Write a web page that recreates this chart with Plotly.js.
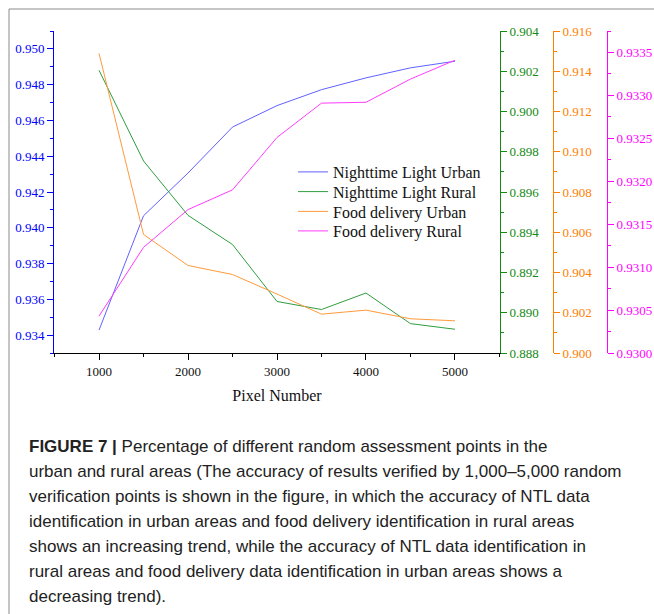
<!DOCTYPE html>
<html>
<head>
<meta charset="utf-8">
<script src="https://cdn.plot.ly/plotly-3.0.1.min.js"></script>
<style>html,body{margin:0;padding:0;background:#fff;}#chart{width:654px;height:614px;}</style>
</head>
<body>
<div id="chart"></div>
<script>
// ---- data ----
const pixelNumber = [1000, 1500, 2000, 2500, 3000, 3500, 4000, 4500, 5000];
const ntlUrban  = [0.93428, 0.94067, 0.94306, 0.94563, 0.94683, 0.94772, 0.94838, 0.94894, 0.94931];
const ntlRural  = [0.90205, 0.89754, 0.89484, 0.89339, 0.89056, 0.89016, 0.89098, 0.88946, 0.88918];
const foodUrban = [0.91489, 0.90589, 0.90435, 0.90390, 0.90293, 0.90193, 0.90213, 0.90170, 0.90160];
const foodRural = [0.93043, 0.93123, 0.93167, 0.93190, 0.93251, 0.93291, 0.93292, 0.93319, 0.93341];
const seriesNames = ["Nighttime Light Urban", "Nighttime Light Rural", "Food delivery Urban", "Food delivery Rural"];
const xTitle = "Pixel Number";
const captionLines = [
  "<b>FIGURE 7 |</b> Percentage of different random assessment points in the",
  "urban and rural areas (The accuracy of results verified by 1,000–5,000 random",
  "verification points is shown in the figure, in which the accuracy of NTL data",
  "identification in urban areas and food delivery identification in rural areas",
  "shows an increasing trend, while the accuracy of NTL data identification in",
  "rural areas and food delivery data identification in urban areas shows a",
  "decreasing trend)."
];

// ---- layout geometry (pixels) ----
const W = 654, H = 614;
const mL = 54, mR = 47, mT = 31, mB = 261;
const pw = W - mL - mR, ph = H - mT - mB;
const px = x => (x - mL) / pw;
const py = y => (H - mB - y) / ph;

const serif = "Liberation Serif, Times New Roman, serif";
const cBlue = "#0000ff", cGreen = "#138a13", cOrange = "#ff8000", cMag = "#ff00ff";

const traces = [
  {x: pixelNumber, y: ntlUrban, name: seriesNames[0], type: "scatter", mode: "lines", yaxis: "y", legend: "legend", line: {color: "#6161ff", width: 1}},
  {x: pixelNumber, y: ntlRural, name: seriesNames[1], type: "scatter", mode: "lines", yaxis: "y2", legend: "legend2", line: {color: "#2e9e3e", width: 1}},
  {x: pixelNumber, y: foodUrban, name: seriesNames[2], type: "scatter", mode: "lines", yaxis: "y3", legend: "legend3", line: {color: "#ff9a3c", width: 1}},
  {x: pixelNumber, y: foodRural, name: seriesNames[3], type: "scatter", mode: "lines", yaxis: "y4", legend: "legend4", line: {color: "#ff3cff", width: 1}}
];

function yax(color, range, dtick, fmt, extra) {
  return Object.assign({
    range: range, dtick: dtick, tick0: 0, tickformat: fmt,
    showgrid: false, zeroline: false, showline: true, linecolor: color, linewidth: 1,
    ticks: "outside", ticklen: 6, tickwidth: 1, tickcolor: color,
    tickfont: {family: serif, size: 13, color: color},
    minor: {dtick: dtick / 2, tick0: 0, ticks: "outside", ticklen: 3, tickcolor: color, showgrid: false}
  }, extra || {});
}

function leg(yc) {
  return {x: px(293), y: py(yc), xanchor: "left", yanchor: "middle", bgcolor: "rgba(0,0,0,0)",
          borderwidth: 0, font: {family: serif, size: 16, color: "#111"}};
}

const annotations = captionLines.map((t, i) => ({
  text: t, xref: "paper", yref: "paper", x: px(27), y: py(446 + 25 * i),
  xanchor: "left", yanchor: "middle", showarrow: false, align: "left",
  font: {family: "Liberation Sans, Arial, sans-serif", size: 17, color: "#222"}
}));

const layout = {
  width: W, height: H,
  margin: {l: mL, r: mR, t: mT, b: mB, pad: 0},
  paper_bgcolor: "#fff", plot_bgcolor: "#fff",
  showlegend: true,
  legend: leg(172),
  legend2: leg(191.7),
  legend3: leg(211.5),
  legend4: leg(231),
  xaxis: {
    domain: [0, px(500)], range: [494, 5506], dtick: 1000, tick0: 0,
    showgrid: false, zeroline: false, showline: true, linecolor: "#000", linewidth: 1,
    ticks: "outside", ticklen: 6, tickcolor: "#000",
    tickfont: {family: serif, size: 13, color: "#111"},
    minor: {dtick: 500, tick0: 0, ticks: "outside", ticklen: 3, tickcolor: "#000", showgrid: false},
    title: {text: xTitle, font: {family: serif, size: 16, color: "#111"}, standoff: 12}
  },
  yaxis: yax(cBlue, [0.933, 0.951], 0.002, ".3f", {side: "left"}),
  yaxis2: yax(cGreen, [0.888, 0.904], 0.002, ".3f", {overlaying: "y", side: "right", anchor: "x"}),
  yaxis3: yax(cOrange, [0.900, 0.916], 0.002, ".3f", {overlaying: "y", side: "right", anchor: "free", position: px(553)}),
  yaxis4: yax(cMag, [0.9300, 0.93375], 0.0005, ".4f", {overlaying: "y", side: "right", anchor: "free", position: px(607)}),
  shapes: [
    {type: "line", xref: "paper", yref: "paper", x0: px(9), x1: px(9), y0: py(9), y1: py(620), line: {color: "#8a8a8a", width: 1}},
    {type: "line", xref: "paper", yref: "paper", x0: px(9), x1: px(660), y0: py(9), y1: py(9), line: {color: "#8a8a8a", width: 1}}
  ],
  annotations: annotations
};

Plotly.newPlot("chart", traces, layout, {displayModeBar: false, staticPlot: true});
</script>
</body>
</html>
